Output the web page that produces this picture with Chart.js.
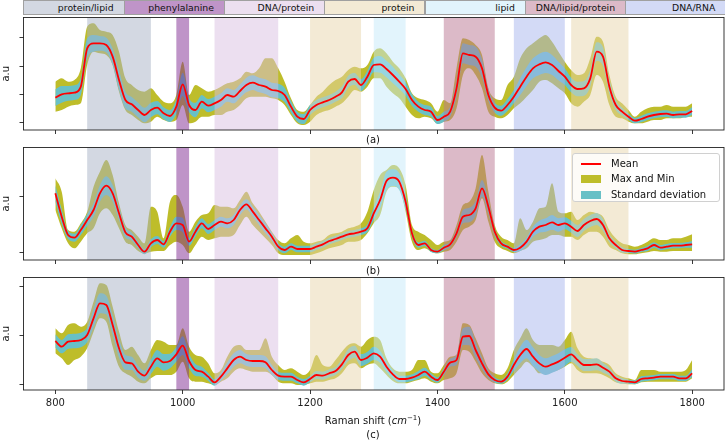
<!DOCTYPE html>
<html>
<head>
<meta charset="utf-8">
<script src="https://cdn.jsdelivr.net/npm/chart.js@4.4.1/dist/chart.umd.min.js"></script>
<style>
body { margin: 0; background: #fff; font-family: "DejaVu Sans", sans-serif; color: #111; }
#wrap { position: relative; width: 725px; height: 442px; overflow: hidden; }
canvas { position: absolute; left: 0; }
.cell { position: absolute; top: 0; height: 15px; box-sizing: border-box; border: 1px solid #a0a0a0;
        font-size: 9.3px; line-height: 13px; text-align: right; padding-right: 10px; white-space: nowrap; }
.lbl { position: absolute; font-size: 10px; white-space: nowrap; transform: translate(-50%, -50%); }
#legend { position: absolute; left: 572px; top: 153px; width: 148px; height: 49px; box-sizing: border-box;
          border: 1px solid #d0d0d0; border-radius: 3px; background: rgba(255,255,255,0.8); }
.row { position: absolute; left: 0; width: 146px; height: 14px; font-size: 10px; line-height: 14px; white-space: nowrap; }
.sw { position: absolute; left: 8px; width: 20px; }
.txt { position: absolute; left: 38px; white-space: nowrap; }
</style>
</head>
<body>
<div id="wrap">
  <div id="header"></div>
  <canvas id="c1" width="725" height="130" style="top:10px"></canvas>
  <canvas id="c2" width="725" height="130" style="top:140px"></canvas>
  <canvas id="c3" width="725" height="160" style="top:270px"></canvas>
  <div class="lbl" style="left:373px; top:139px">(a)</div>
  <div class="lbl" style="left:373px; top:270px">(b)</div>
  <div class="lbl" style="left:373px; top:420px">Raman shift (<i>cm</i><sup style="font-size:7px">−1</sup>)</div>
  <div class="lbl" style="left:373px; top:434px">(c)</div>
  <div id="legend">
    <div class="row" style="top:3px"><div class="sw" style="top:6px; height:2px; background:#ff0000"></div><div class="txt">Mean</div></div>
    <div class="row" style="top:18px"><div class="sw" style="top:3px; height:8px; background:rgb(190,189,42)"></div><div class="txt">Max and Min</div></div>
    <div class="row" style="top:34px"><div class="sw" style="top:3px; height:8px; background:rgb(104,192,198)"></div><div class="txt">Standard deviation</div></div>
  </div>
</div>
<script>
const shift = [800,810,820,830,840,850,860,870,880,890,900,
  910,920,930,940,950,960,970,980,990,1000,
  1010,1020,1030,1040,1050,1060,1070,1080,1090,1100,
  1110,1120,1130,1140,1150,1160,1170,1180,1190,1200,
  1210,1220,1230,1240,1250,1260,1270,1280,1290,1300,
  1310,1320,1330,1340,1350,1360,1370,1380,1390,1400,
  1410,1420,1430,1440,1450,1460,1470,1480,1490,1500,
  1510,1520,1530,1540,1550,1560,1570,1580,1590,1600,
  1610,1620,1630,1640,1650,1660,1670,1680,1690,1700,
  1710,1720,1730,1740,1750,1760,1770,1780,1790,1800];
const xTicks = [800, 1000, 1200, 1400, 1600, 1800];

// (a)
const meanA = [73,83,86,88,106,221,236,236,231,196,126,
  66,53,36,21,36,43,26,18,46,113,
  51,36,61,49,56,66,81,76,93,111,
  118,111,106,96,93,81,46,16,9,36,
  51,59,66,76,89,121,129,111,136,171,
  173,159,141,121,99,66,46,36,31,6,
  16,31,101,206,201,196,161,81,43,34,
  51,76,106,136,161,173,179,171,153,136,
  111,99,101,131,211,196,106,51,31,16,
  4,9,16,21,24,25,21,23,23,33];
const maxA = [121,131,121,126,161,286,296,276,271,261,211,
  131,111,96,91,101,81,61,56,81,181,
  81,111,101,91,96,106,116,121,131,151,
  146,161,191,191,161,121,71,36,31,51,
  76,91,111,126,136,156,166,161,171,211,
  221,206,181,161,131,86,71,66,56,31,
  66,56,161,251,246,231,201,101,71,66,
  111,136,191,221,236,251,261,241,211,181,
  156,141,146,191,256,241,141,76,56,36,
  16,31,41,46,46,51,46,46,46,56];
const minA = [31,36,46,51,56,171,211,206,201,171,91,
  36,21,6,-4,1,16,6,1,6,51,
  -4,1,16,16,21,21,31,36,51,71,
  76,76,76,71,66,51,21,-4,-9,1,
  21,31,36,46,56,76,96,91,106,131,
  131,106,86,71,46,21,11,16,11,-4,
  1,6,41,141,161,141,101,31,16,11,
  21,41,56,76,96,121,126,116,101,86,
  56,46,61,81,141,121,51,16,11,1,
  -4,-4,1,6,6,11,11,11,16,16];
const stdA = [25,25,22,22,25,30,25,22,22,25,30,
  25,22,22,22,22,20,18,18,22,35,
  22,22,20,20,20,20,20,20,20,22,
  22,22,22,22,22,22,18,15,15,15,
  15,15,15,15,18,18,18,18,18,22,
  25,25,25,22,20,18,15,15,15,12,
  15,15,25,30,30,30,28,18,15,15,
  18,20,25,28,30,32,32,30,28,25,
  22,22,22,25,28,28,22,15,12,10,
  8,10,10,10,10,10,10,10,10,12];

// (b)
const meanB = [176,106,51,43,66,96,126,176,199,176,116,
  59,46,21,1,26,36,23,61,86,81,
  31,61,86,69,81,91,86,96,126,143,
  121,96,71,46,16,6,16,9,9,9,
  16,23,33,39,46,53,56,61,71,116,
  156,213,223,211,151,56,21,26,6,1,
  13,23,56,106,111,131,191,136,61,26,
  16,6,13,31,61,76,81,89,81,86,
  76,63,81,93,99,81,41,21,6,3,
  1,6,11,21,13,16,19,19,21,23];
const maxB = [221,181,66,61,86,121,196,241,276,231,146,
  81,66,46,26,136,121,41,151,171,136,
  61,91,111,116,141,136,136,131,156,181,
  146,121,91,61,36,26,41,51,31,26,
  31,36,51,56,61,71,76,86,121,186,
  231,246,261,251,201,81,61,51,36,21,
  31,36,81,141,151,191,291,181,81,46,
  36,26,101,66,91,131,136,206,121,116,
  121,96,111,121,116,106,66,41,26,21,
  16,21,31,41,36,36,41,41,46,53];
const minB = [126,71,26,11,31,56,71,116,131,111,71,
  31,21,3,-4,1,3,3,21,31,21,
  -4,21,46,36,41,46,46,51,81,106,
  81,61,41,21,-4,-9,-9,-9,-9,-9,
  -4,3,11,16,21,31,31,36,56,86,
  111,181,196,191,121,31,6,11,1,-4,
  1,6,31,66,76,96,161,91,31,11,
  3,-4,3,11,31,36,41,51,51,46,
  46,36,51,61,61,46,16,6,-4,-7,
  -7,-4,-1,3,1,1,3,3,3,3];
const stdB = [25,22,12,12,15,18,20,25,28,25,20,
  15,12,10,8,12,12,10,15,20,22,
  12,15,15,15,15,15,15,15,15,15,
  15,15,15,12,10,10,10,10,10,10,
  10,10,10,10,10,10,10,10,12,20,
  25,28,25,25,22,12,8,8,6,5,
  8,8,12,20,22,22,25,22,12,8,
  6,6,10,12,15,18,20,22,20,18,
  18,18,18,18,18,18,12,10,8,6,
  6,6,8,8,8,8,8,8,8,10];

// (c)
const meanC = [129,112,127,129,132,147,197,242,237,177,107,
  65,62,37,25,52,77,65,69,89,115,
  69,42,37,22,5,22,47,72,82,72,
  69,69,65,42,25,22,22,12,5,15,
  27,25,32,39,59,87,97,72,79,92,
  82,52,29,15,15,19,27,37,22,12,
  37,64,72,142,144,102,62,29,12,7,
  22,57,87,105,82,62,52,59,67,79,
  89,72,57,57,59,49,37,17,9,7,
  5,15,17,19,22,22,22,17,17,32];
const maxC = [167,152,177,182,172,187,247,302,297,232,157,
  102,112,87,62,102,132,127,117,117,167,
  112,87,82,62,32,42,82,112,117,102,
  102,102,137,82,57,42,47,37,27,42,
  87,57,52,72,97,117,122,112,132,142,
  132,77,47,37,37,42,72,72,37,32,
  57,82,87,182,177,137,92,47,32,27,
  47,102,137,167,132,117,117,117,112,132,
  157,107,82,77,72,67,57,32,22,17,
  12,42,42,42,37,37,37,37,42,72];
const minC = [92,77,57,72,82,107,157,197,187,112,52,
  32,22,7,2,17,27,27,27,37,67,
  17,7,7,2,-3,7,17,37,47,42,
  37,37,37,27,7,2,2,-3,-3,2,
  7,7,12,17,32,57,62,47,57,62,
  47,27,9,2,2,7,12,17,7,2,
  12,17,32,102,97,67,32,12,2,-1,
  7,27,47,67,52,32,32,37,42,52,
  62,42,32,32,32,27,17,5,2,-1,
  -1,5,7,7,7,7,7,7,7,17];
const stdC = [20,20,22,22,22,22,28,30,28,30,28,
  22,20,18,15,22,25,25,22,22,28,
  22,18,15,12,10,12,18,20,20,18,
  18,18,18,15,12,12,12,10,10,10,
  12,12,12,12,15,18,18,18,18,20,
  18,15,12,10,10,10,12,12,10,8,
  10,12,15,25,28,25,18,12,8,6,
  10,18,25,28,28,25,25,25,25,25,
  22,18,18,18,18,15,12,10,8,6,
  6,8,8,8,8,8,8,8,8,12];

const groupNames = ['protein/lipid', 'phenylalanine', 'DNA/protein', 'protein', 'lipid', 'DNA/lipid/protein', 'DNA/RNA'];
const groupColors = ['rgba(167,177,197,0.5)', 'rgba(127,41,145,0.5)', 'rgba(217,191,225,0.5)', 'rgba(231,213,171,0.5)',
                     'rgba(197,233,249,0.5)', 'rgba(185,117,145,0.5)', 'rgba(167,181,237,0.5)'];
const bandFrom  = [850, 990, 1050, 1200, 1300, 1410, 1520, 1610];
const bandTo    = [950, 1010, 1150, 1280, 1350, 1490, 1600, 1700];
const bandGroup = [0, 1, 2, 3, 4, 5, 6, 3];

const olive = 'rgb(190,189,42)';
const teal = 'rgb(104,192,198)';
const font = {family: '"DejaVu Sans", sans-serif', size: 10};

// header cells
let header = document.getElementById('header');
groupNames.forEach(function (name, i) {
    let d = document.createElement('div');
    d.className = 'cell';
    d.style.left = (23.3 + i * 100.3) + 'px';
    d.style.width = '101.3px';
    d.style.background = groupColors[i];
    d.textContent = name;
    header.appendChild(d);
});

const bandsPlugin = {
    id: 'bands',
    beforeDatasetDraw(chart, args) {
        if (args.index !== 0) return;
        let ctx = chart.ctx, a = chart.chartArea, x = chart.scales.x;
        ctx.save();
        bandFrom.forEach(function (s, i) {
            let x0 = x.getPixelForValue(s), x1 = x.getPixelForValue(bandTo[i]);
            ctx.fillStyle = groupColors[bandGroup[i]];
            ctx.fillRect(x0, a.top, x1 - x0, a.bottom - a.top);
        });
        ctx.restore();
    },
    afterDraw(chart) {
        let ctx = chart.ctx, a = chart.chartArea;
        ctx.save();
        ctx.strokeStyle = '#222';
        ctx.lineWidth = 0.9;
        ctx.strokeRect(a.left, a.top, a.right - a.left, a.bottom - a.top);
        ctx.restore();
    }
};

function makePanel(id, mean, std, maxv, minv, yMin, yMax, yTicks, axisH, showX) {
    let pts = arr => arr.map((v, i) => ({x: shift[i], y: v}));
    let none = 'rgba(0,0,0,0)';
    return new Chart(document.getElementById(id).getContext('2d'), {
        type: 'line',
        data: {
            datasets: [
                {label: 'Mean', data: pts(mean), borderColor: '#ff0000', borderWidth: 1.8, fill: false, order: 0},
                {label: 'sd+', data: pts(mean.map((v, i) => v + std[i])), borderColor: none, borderWidth: 0, backgroundColor: teal, fill: '+1', order: 1},
                {label: 'sd-', data: pts(mean.map((v, i) => v - std[i])), borderColor: none, borderWidth: 0, fill: false, order: 1},
                {label: 'max', data: pts(maxv), borderColor: none, borderWidth: 0, backgroundColor: olive, fill: '+1', order: 2},
                {label: 'min', data: pts(minv), borderColor: none, borderWidth: 0, fill: false, order: 2}
            ]
        },
        options: {
            responsive: false,
            animation: false,
            events: [],
            elements: {point: {radius: 0}, line: {cubicInterpolationMode: 'monotone'}},
            layout: {padding: {top: 7.5, right: 1, left: 0, bottom: 0}},
            plugins: {legend: {display: false}, tooltip: {enabled: false}},
            scales: {
                x: {
                    type: 'linear', min: 750, max: 1850,
                    afterBuildTicks: ax => { ax.ticks = xTicks.map(v => ({value: v})); },
                    afterFit: s => { s.height = axisH; },
                    ticks: {display: showX, font: font, color: '#222', padding: 3, maxRotation: 0, callback: v => String(v)},
                    grid: {drawOnChartArea: false, tickLength: 4, color: '#222', lineWidth: 0.9},
                    border: {display: false}
                },
                y: {
                    min: yMin, max: yMax,
                    afterBuildTicks: ax => { ax.ticks = yTicks.map(v => ({value: v})); },
                    afterFit: s => { s.width = 23.5; },
                    ticks: {display: false},
                    title: {display: true, text: 'a.u', font: font, color: '#222', padding: 0},
                    grid: {drawOnChartArea: false, tickLength: 4, color: '#222', lineWidth: 0.9},
                    border: {display: false}
                }
            }
        },
        plugins: [bandsPlugin]
    });
}

makePanel('c1', meanA, stdA, maxA, minA, -24, 313.5, [0, 84, 168, 252], 10, false);
makePanel('c2', meanB, stdB, maxB, minB, -24, 313.5, [0, 165], 10, false);
makePanel('c3', meanC, stdC, maxC, minC, -18, 319.5, [0, 147, 294], 40, true);
</script>
</body>
</html>
